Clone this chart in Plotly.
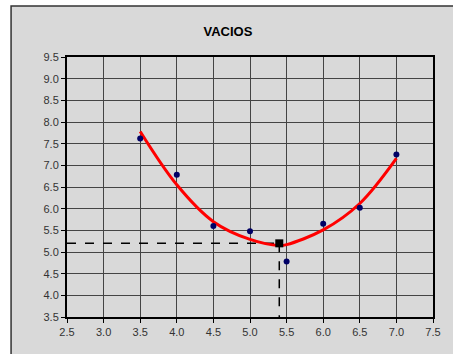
import plotly.graph_objects as go

# Data
x_points = [3.5, 4.0, 4.5, 5.0, 5.5, 6.0, 6.5, 7.0]
y_points = [7.62, 6.78, 5.60, 5.48, 4.78, 5.65, 6.02, 7.25]

x_curve = [3.5, 4.0, 4.5, 5.0, 5.4, 5.5, 6.0, 6.5, 7.0]
y_curve = [7.78, 6.55, 5.70, 5.29, 5.15, 5.17, 5.51, 6.12, 7.16]

opt_x = [5.4]
opt_y = [5.2]

h_dash_x = [2.5, 5.4]
h_dash_y = [5.2, 5.2]
v_dash_x = [5.4, 5.4]
v_dash_y = [5.2, 3.5]

x_ticks = [2.5, 3.0, 3.5, 4.0, 4.5, 5.0, 5.5, 6.0, 6.5, 7.0, 7.5]
y_ticks = [3.5, 4.0, 4.5, 5.0, 5.5, 6.0, 6.5, 7.0, 7.5, 8.0, 8.5, 9.0, 9.5]

W, H = 453, 354
ml, mr, mt, mb = 67, 13, 57, 37
pw = W - ml - mr
ph = H - mt - mb

fig = go.Figure()
fig.add_trace(go.Scatter(x=h_dash_x, y=h_dash_y, mode="lines",
                         line=dict(color="black", width=1.5, dash="dash"), showlegend=False))
fig.add_trace(go.Scatter(x=v_dash_x, y=v_dash_y, mode="lines",
                         line=dict(color="black", width=1.5, dash="dash"), showlegend=False))
fig.add_trace(go.Scatter(x=x_curve, y=y_curve, mode="lines", line_shape="spline",
                         line=dict(color="#ff0000", width=3), showlegend=False))
fig.add_trace(go.Scatter(x=x_points, y=y_points, mode="markers",
                         marker=dict(color="#000066", size=6), showlegend=False))
fig.add_trace(go.Scatter(x=opt_x, y=opt_y, mode="markers",
                         marker=dict(color="black", size=8, symbol="square"), showlegend=False))

# outer gray frame
fx0 = (10 - ml) / pw
fy1 = (H - mb - 6) / ph
fig.add_shape(type="rect", xref="paper", yref="paper", x0=fx0, x1=1.5, y0=-0.5, y1=fy1,
              fillcolor="#d9d9d9", line=dict(color="#333333", width=1.5), layer="below")

axis_common = dict(showline=True, linecolor="black", linewidth=2, mirror=True,
                   gridcolor="#444444", gridwidth=1, zeroline=False,
                   ticks="outside", ticklen=4, tickcolor="black",
                   tickfont=dict(family="Liberation Sans, Arial", size=11, color="#333333"),
                   tickformat=".1f")

fig.update_layout(
    width=W, height=H,
    margin=dict(l=ml, r=mr, t=mt, b=mb),
    paper_bgcolor="white",
    plot_bgcolor="white",
    title=dict(text="<b>VACIOS</b>", x=(231 - ml) / pw, xref="paper", xanchor="center",
               y=1 - 31 / H, yanchor="middle",
               font=dict(family="Liberation Sans, Arial", size=13, color="black")),
    xaxis=dict(range=[2.5, 7.5], tickvals=x_ticks, **axis_common),
    yaxis=dict(range=[3.5, 9.5], tickvals=y_ticks, **axis_common),
)

fig.write_html("out.html")
